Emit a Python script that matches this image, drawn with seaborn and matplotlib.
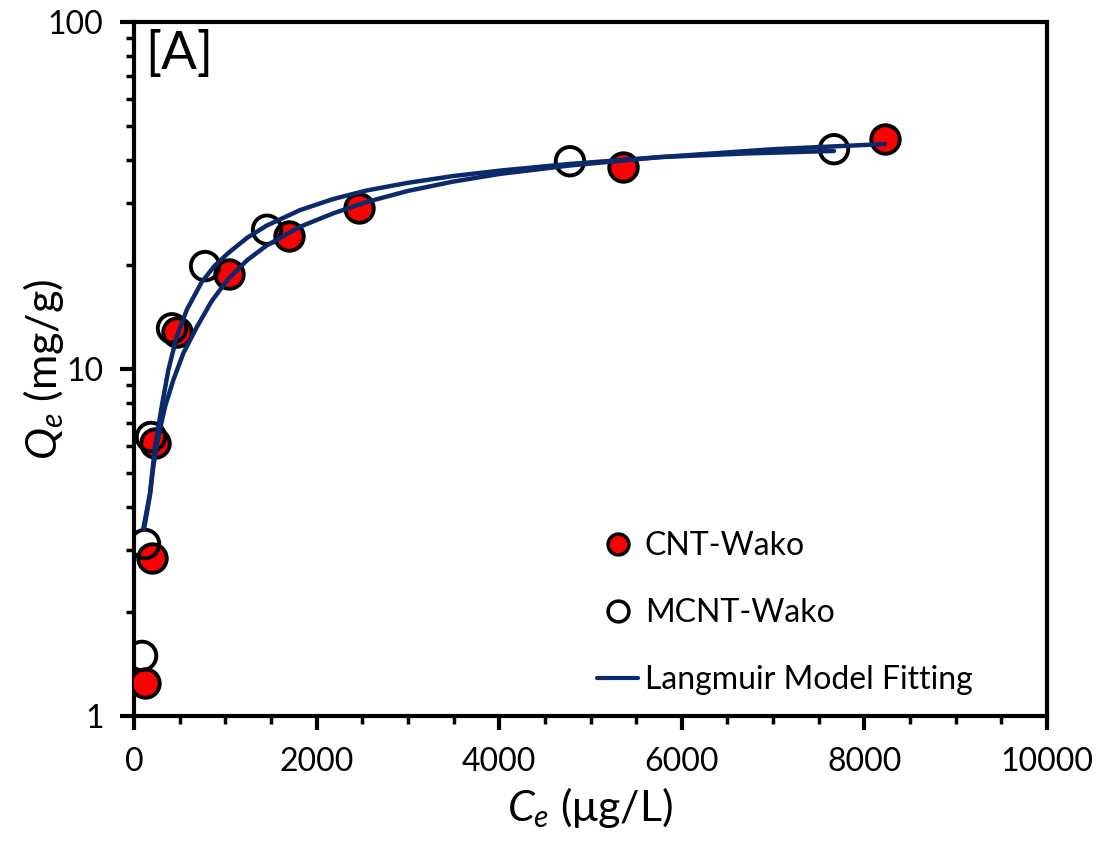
import numpy as np
import pandas as pd
import matplotlib
matplotlib.use('Agg')
import matplotlib.pyplot as plt
import seaborn as sns
from matplotlib.lines import Line2D
from matplotlib.ticker import MultipleLocator, FuncFormatter, LogLocator

# measured points
cnt_ce = [120, 197, 230, 471, 1040, 1698, 2464, 5356, 8226]
cnt_qe = [1.245, 2.85, 6.12, 12.8, 18.8, 24.2, 29.1, 38.2, 46.0]
mcnt_ce = [88, 120, 186, 416, 778, 1457, 4775, 7667]
mcnt_qe = [1.49, 3.13, 6.37, 13.1, 19.8, 25.2, 39.7, 43.0]

# Langmuir fitting curves
fit_mcnt_ce = [102, 175, 230, 303, 376, 468, 577, 741, 880, 1033, 1240, 1453,
               1818, 2183, 2549, 3000, 3500, 4008, 4775, 5761, 6700, 7667]
fit_mcnt_qe = [3.47, 4.38, 5.97, 7.79, 9.94, 12.4, 14.8, 17.8, 19.8, 21.6, 23.9,
               25.9, 28.7, 30.9, 32.7, 34.4, 36.0, 37.3, 39.0, 40.8, 41.8, 42.5]
fit_cnt_ce = [110, 175, 211, 266, 340, 430, 540, 687, 851, 1033, 1240, 1453,
              1818, 2183, 2549, 3000, 3500, 4008, 4775, 5761, 7000, 8226]
fit_cnt_qe = [3.45, 4.35, 5.23, 6.38, 7.79, 9.29, 11.1, 13.2, 15.7, 18.2, 20.6,
              22.7, 25.7, 28.1, 30.3, 32.6, 34.7, 36.5, 38.6, 40.8, 43.0, 44.5]

NAVY = '#0b2a6b'

sns.set_style('ticks', {'axes.edgecolor': 'black', 'xtick.color': 'black',
                        'ytick.color': 'black', 'text.color': 'black',
                        'axes.labelcolor': 'black'})
plt.rcParams['font.family'] = ['Lato', 'DejaVu Sans']
plt.rcParams['mathtext.fontset'] = 'custom'
plt.rcParams['mathtext.rm'] = 'Lato'
plt.rcParams['mathtext.it'] = 'Lato:italic'

fig = plt.figure(figsize=(11.05, 8.47), dpi=100)
ax = fig.add_axes([0.1213, 0.1547, 0.8262, 0.8193])

sns.scatterplot(x=cnt_ce, y=cnt_qe, ax=ax, s=420, color='red',
                edgecolor='black', linewidth=2.8, zorder=3)
sns.scatterplot(x=mcnt_ce, y=mcnt_qe, ax=ax, s=420, facecolor='none',
                edgecolor='black', linewidth=2.8, zorder=3)
sns.lineplot(x=fit_mcnt_ce, y=fit_mcnt_qe, ax=ax, sort=False, estimator=None,
             color=NAVY, linewidth=3.2, zorder=4)
sns.lineplot(x=fit_cnt_ce, y=fit_cnt_qe, ax=ax, sort=False, estimator=None,
             color=NAVY, linewidth=3.2, zorder=4)

ax.set_yscale('log')
ax.set_xlim(0, 10000)
ax.set_ylim(1, 100)
ax.xaxis.set_major_locator(MultipleLocator(2000))
ax.xaxis.set_minor_locator(MultipleLocator(500))
ax.yaxis.set_major_locator(LogLocator(base=10, numticks=5))
ax.yaxis.set_minor_locator(LogLocator(base=10, subs=np.arange(2, 10), numticks=20))
ax.yaxis.set_major_formatter(FuncFormatter(lambda v, p: '%g' % v))
ax.yaxis.set_minor_formatter(FuncFormatter(lambda v, p: ''))

for s in ax.spines.values():
    s.set_linewidth(3)
    s.set_color('black')
    s.set_visible(True)
ax.tick_params(which='major', direction='out', length=10, width=3,
               labelsize=23, pad=12, colors='black')
ax.tick_params(which='minor', direction='out', length=6, width=2.5,
               colors='black')

ax.set_xlabel(r'$C_e$ (μg/L)', fontsize=31)
ax.set_ylabel(r'$Q_e$ (mg/g)', fontsize=31)
ax.xaxis.set_label_coords(0.5, -0.1)
ax.yaxis.set_label_coords(-0.075, 0.5)
ax.text(0.012, 0.988, '[A]', transform=ax.transAxes, fontsize=38,
        va='top', ha='left')

handles = [
    Line2D([], [], marker='o', linestyle='none', markersize=15,
           markerfacecolor='red', markeredgecolor='black', markeredgewidth=2.5),
    Line2D([], [], marker='o', linestyle='none', markersize=15,
           markerfacecolor='none', markeredgecolor='black', markeredgewidth=2.5),
    Line2D([], [], color=NAVY, linewidth=3),
]
labels = ['CNT-Wako', 'MCNT-Wako', 'Langmuir Model Fitting']
ax.legend(handles, labels, loc='lower left', bbox_to_anchor=(0.493, 0.012),
          frameon=False, fontsize=23, labelspacing=1.15, handlelength=1.3,
          handletextpad=0.2, borderaxespad=0)

fig.savefig('out.png', dpi=100)
